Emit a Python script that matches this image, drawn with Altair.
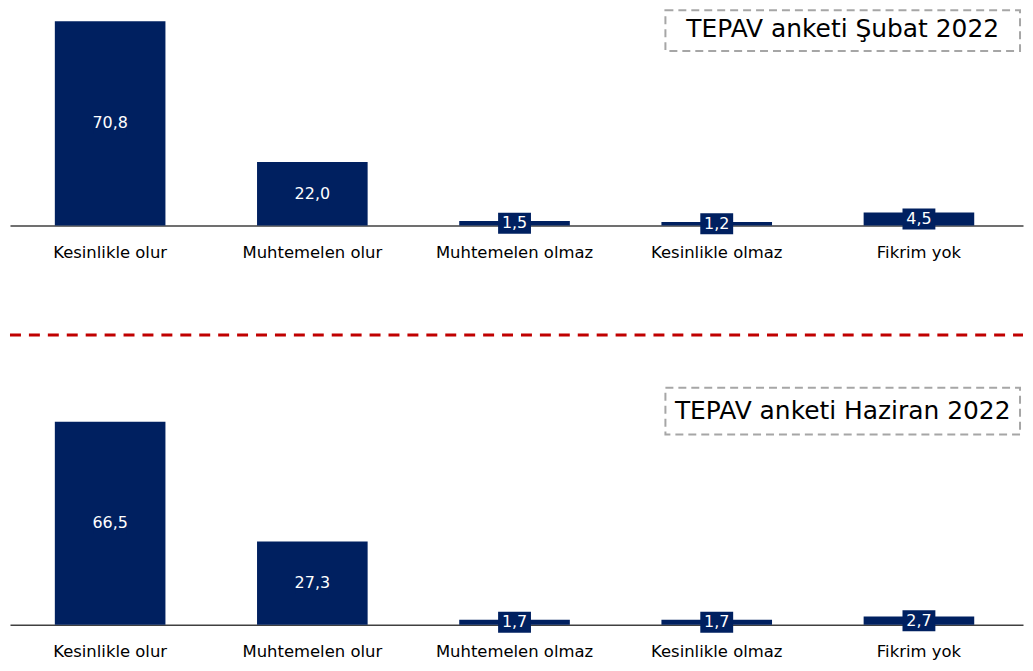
import altair as alt
import pandas as pd

categories = ["Kesinlikle olur", "Muhtemelen olur", "Muhtemelen olmaz", "Kesinlikle olmaz", "Fikrim yok"]
subat_values = [70.8, 22.0, 1.5, 1.2, 4.5]
haziran_values = [66.5, 27.3, 1.7, 1.7, 2.7]
titles = ["TEPAV anketi Şubat 2022", "TEPAV anketi Haziran 2022"]

NAVY = "#002060"
FONT = "DejaVu Sans"
W = 1017


def panel(values, title, height, ymax, box, txy, sep=False):
    df = pd.DataFrame({"cat": categories, "v": values})
    df["mid"] = df["v"] / 2
    df["lab"] = [f"{v:.1f}".replace(".", ",") for v in values]
    xscale = alt.Scale(paddingInner=0.453, paddingOuter=0.2315, align=0.479)
    xaxis = alt.Axis(title=None, labelAngle=0, ticks=False, labelPadding=19,
                     labelFontSize=16.5, labelFont=FONT, labelColor="#000000",
                     domainColor="#404040", domainWidth=1.5, grid=False)
    yscale = alt.Scale(domain=[0, ymax], nice=False)
    base = alt.Chart(df)
    bars = base.mark_bar(color=NAVY).encode(
        x=alt.X("cat:N", sort=categories, scale=xscale, axis=xaxis),
        y=alt.Y("v:Q", scale=yscale, axis=None),
    )
    boxes = base.mark_point(shape="M-1,-0.64L1,-0.64L1,0.64L-1,0.64Z", filled=True,
                            color=NAVY, size=1089, opacity=1).encode(
        x=alt.X("cat:N", sort=categories),
        y=alt.Y("mid:Q", scale=yscale),
    )
    texts = base.mark_text(color="white", fontSize=16, font=FONT, baseline="middle").encode(
        x=alt.X("cat:N", sort=categories),
        y=alt.Y("mid:Q", scale=yscale),
        text="lab:N",
    )
    tdf = pd.DataFrame({"t": [title]})
    frame = alt.Chart(tdf).mark_rect(fill="transparent", stroke="#A6A6A6", strokeWidth=2,
                                     strokeDash=[8, 5]).encode(
        x=alt.value(box[0]), x2=alt.value(box[1]), y=alt.value(box[2]), y2=alt.value(box[3])
    )
    ttext = alt.Chart(tdf).mark_text(fontSize=25, font=FONT, color="#000000",
                                     baseline="middle", align="center").encode(
        x=alt.value(txy[0]), y=alt.value(txy[1]), text="t:N"
    )
    layers = [bars, boxes, texts, frame, ttext]
    if sep:
        rule = alt.Chart(tdf).mark_rule(color="#C00000", strokeWidth=3, strokeDash=[11, 8]).encode(
            x=alt.value(0), x2=alt.value(W), y=alt.value(2)
        )
        layers.append(rule)
    return alt.layer(*layers).properties(width=W, height=height)


top = panel(subat_values, titles[0], 217, 74.95, (658, 1014, 1, 42), (836, 20))
bottom = panel(haziran_values, titles[1], 293, 95.5, (658, 1014, 55, 102), (836, 78), sep=True)

chart = alt.vconcat(top, bottom, spacing=72).properties(
    padding={"left": 0, "top": 0, "right": 0, "bottom": 0}
).configure_view(strokeWidth=0)

chart.save("out.html", embed_options={"renderer": "svg", "actions": False})
